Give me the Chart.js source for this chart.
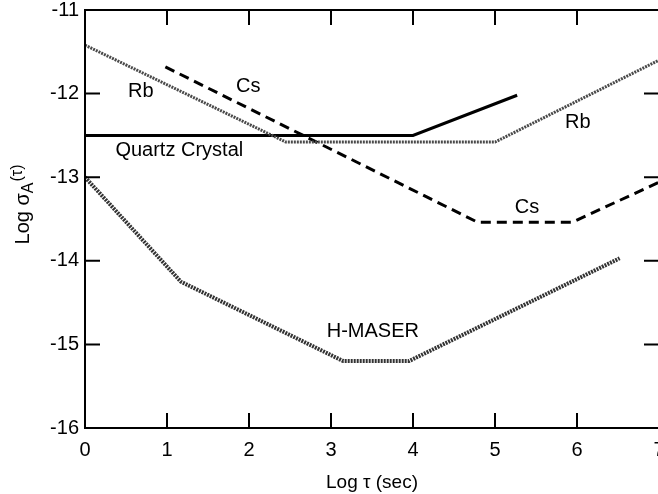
<!DOCTYPE html>
<html>
<head>
<meta charset="utf-8">
<script src="https://cdn.jsdelivr.net/npm/chart.js@4"></script>
<style>
  html, body { margin: 0; padding: 0; background: #fff; overflow: hidden; }
</style>
</head>
<body>
<canvas id="chartAllan" width="660" height="494"></canvas>
<script>
// valores (log tau, log sigma)
const RB_TAU = [0, 2.45, 5, 7];
const RB_SIGMA = [-11.42, -12.58, -12.58, -11.6];
const QUARTZ_TAU = [0, 4, 5.27];
const QUARTZ_SIGMA = [-12.5, -12.5, -12.02];
const CS_TAU = [0.98, 4.79, 5.94, 7];
const CS_SIGMA = [-11.68, -13.54, -13.54, -13.06];
const MASER_TAU = [0, 1.17, 3.15, 3.95, 6.52];
const MASER_SIGMA = [-13, -14.25, -15.2, -15.2, -13.97];

const X_TICKS = [0, 1, 2, 3, 4, 5, 6, 7];
const Y_TICKS = [-16, -15, -14, -13, -12, -11];

const ETIQUETAS = ['Rb', 'Cs', 'Quartz Crystal', 'Rb', 'Cs', 'H-MASER'];
// donde va cada etiqueta, en unidades de los ejes
const ETIQUETAS_TAU = [0.68, 1.99, 1.15, 6.01, 5.39, 3.51];
const ETIQUETAS_SIGMA = [-11.98, -11.92, -12.68, -12.34, -13.36, -14.84];

const FUENTE = "'Liberation Sans', Arial, Helvetica, sans-serif";

const puntos = (xs, ys) => xs.map((x, i) => ({ x: x, y: ys[i] }));

const marcoYTextos = {
  id: 'marcoYTextos',
  afterDatasetsDraw(chart) {
    const ctx = chart.ctx;
    const area = chart.chartArea;
    const sx = chart.scales.x;
    const sy = chart.scales.y;
    const largo = 15;

    ctx.save();
    ctx.strokeStyle = '#000';
    ctx.lineWidth = 2;
    ctx.strokeRect(area.left, area.top, area.right - area.left, area.bottom - area.top);

    // ticks hacia adentro en los cuatro lados
    ctx.beginPath();
    X_TICKS.slice(1, -1).forEach(v => {
      const px = sx.getPixelForValue(v);
      ctx.moveTo(px, area.bottom);
      ctx.lineTo(px, area.bottom - largo);
      ctx.moveTo(px, area.top);
      ctx.lineTo(px, area.top + largo);
    });
    Y_TICKS.slice(1, -1).forEach(v => {
      const py = sy.getPixelForValue(v);
      ctx.moveTo(area.left, py);
      ctx.lineTo(area.left + largo, py);
      ctx.moveTo(area.right, py);
      ctx.lineTo(area.right - largo, py);
    });
    ctx.stroke();

    // etiquetas de cada curva
    ctx.fillStyle = '#000';
    ctx.font = '20px ' + FUENTE;
    ctx.textAlign = 'center';
    ctx.textBaseline = 'middle';
    ETIQUETAS.forEach((txt, i) => {
      ctx.fillText(
        txt,
        sx.getPixelForValue(ETIQUETAS_TAU[i]),
        sy.getPixelForValue(ETIQUETAS_SIGMA[i])
      );
    });

    // titulo del eje y con subindice
    ctx.translate(22, (area.top + area.bottom) / 2 - 14);
    ctx.rotate(-Math.PI / 2);
    ctx.textAlign = 'left';
    ctx.textBaseline = 'alphabetic';
    const base = 'Log σ';
    ctx.font = '20px ' + FUENTE;
    const w1 = ctx.measureText(base).width;
    ctx.font = '16px ' + FUENTE;
    const w2 = ctx.measureText('A').width;
    const w3 = ctx.measureText('(τ)').width;
    let x0 = -(w1 + w2 + w3) / 2;
    ctx.font = '20px ' + FUENTE;
    ctx.fillText(base, x0, 7);
    ctx.font = '16px ' + FUENTE;
    ctx.fillText('A', x0 + w1, 11);
    ctx.fillText('(τ)', x0 + w1 + w2 + 1, 0);
    ctx.restore();
  }
};

new Chart(document.getElementById('chartAllan'), {
  type: 'scatter',
  data: {
    datasets: [
      {
        label: 'Rb',
        data: puntos(RB_TAU, RB_SIGMA),
        showLine: true,
        borderColor: '#4a4a4a',
        borderWidth: 3,
        borderDash: [2, 1],
        pointRadius: 0,
      },
      {
        label: 'Quartz Crystal',
        data: puntos(QUARTZ_TAU, QUARTZ_SIGMA),
        showLine: true,
        borderColor: '#000',
        borderWidth: 3,
        pointRadius: 0,
      },
      {
        label: 'Cs',
        data: puntos(CS_TAU, CS_SIGMA),
        showLine: true,
        borderColor: '#000',
        borderWidth: 3,
        borderDash: [10, 6],
        pointRadius: 0,
      },
      {
        label: 'H-MASER',
        data: puntos(MASER_TAU, MASER_SIGMA),
        showLine: true,
        borderColor: '#333',
        borderWidth: 4,
        borderDash: [2, 1],
        pointRadius: 0,
      },
    ],
  },
  options: {
    responsive: false,
    animation: false,
    layout: { padding: { left: 0, top: 10, right: 1, bottom: 0 } },
    plugins: {
      legend: { display: false },
      tooltip: { enabled: false },
    },
    scales: {
      x: {
        type: 'linear',
        min: 0,
        max: 7,
        afterBuildTicks: scale => {
          scale.ticks = X_TICKS.map(v => ({ value: v }));
        },
        afterFit: scale => {
          scale.height = 66;
          scale.paddingLeft = 0;
          scale.paddingRight = 0;
        },
        grid: { display: false, drawTicks: false },
        border: { display: false },
        ticks: {
          color: '#000',
          padding: 10,
          maxRotation: 0,
          font: { family: FUENTE, size: 20 },
        },
        title: {
          display: true,
          text: 'Log τ (sec)',
          color: '#000',
          padding: { top: 0, bottom: 0 },
          font: { family: FUENTE, size: 19 },
        },
      },
      y: {
        type: 'linear',
        min: -16,
        max: -11,
        afterBuildTicks: scale => {
          scale.ticks = Y_TICKS.map(v => ({ value: v }));
        },
        afterFit: scale => {
          scale.width = 85;
          scale.paddingTop = 0;
          scale.paddingBottom = 0;
        },
        grid: { display: false, drawTicks: false },
        border: { display: false },
        ticks: {
          color: '#000',
          padding: 6,
          font: { family: FUENTE, size: 20 },
        },
      },
    },
  },
  plugins: [marcoYTextos],
});
</script>
</body>
</html>
